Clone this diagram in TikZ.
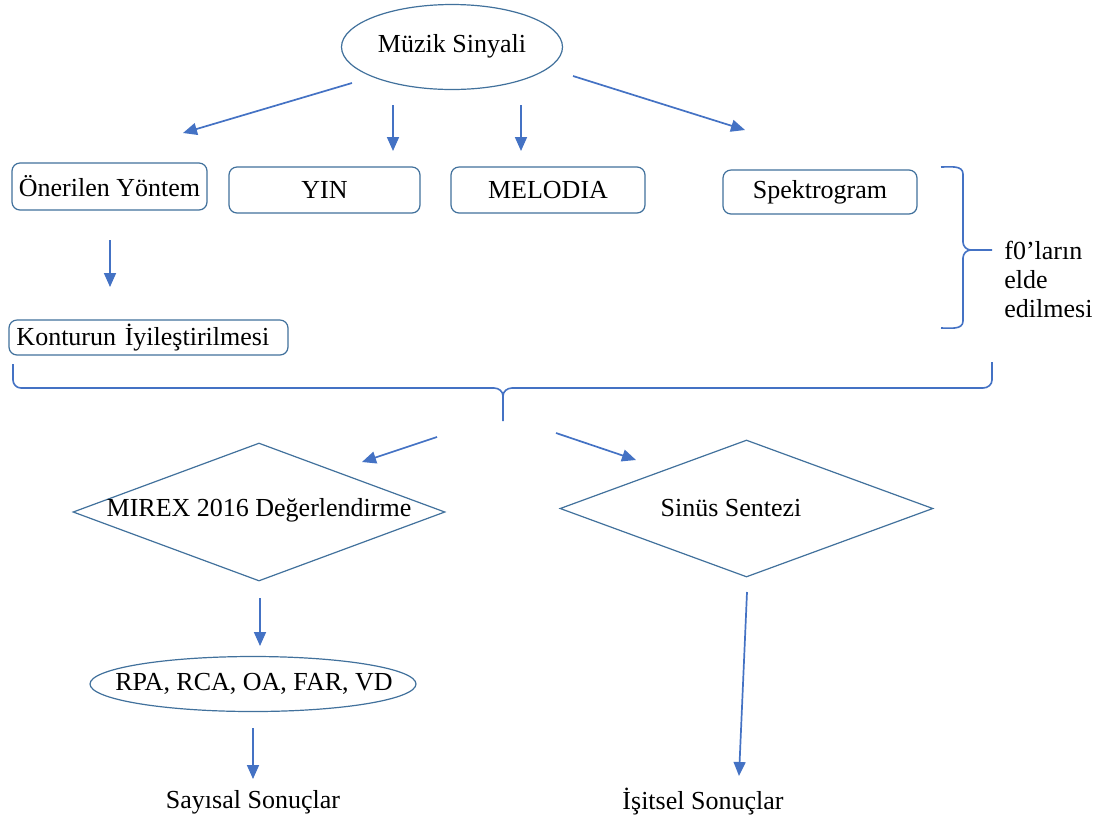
\documentclass[tikz,border=0pt]{standalone}
\usepackage{fontspec}
\setmainfont{Liberation Serif}
\usetikzlibrary{shapes.geometric,arrows.meta}
\definecolor{shapeblue}{HTML}{41719C}
\definecolor{arrowblue}{HTML}{4472C4}
\begin{document}
\begin{tikzpicture}[x=0.5pt,y=-0.5pt,
  every node/.style={font=\fontsize{13}{15}\selectfont},
  box/.style={draw=shapeblue, line width=0.6pt, rounded corners=4pt, inner sep=0pt},
  oval/.style={draw=shapeblue, line width=0.6pt, ellipse, inner sep=0pt},
  dia/.style={draw=shapeblue, line width=0.6pt, diamond, inner sep=0pt},
  arr/.style={draw=arrowblue, line width=0.85pt, -{Triangle[length=7pt,width=6pt]}},
  bracestyle/.style={draw=arrowblue, line width=0.8pt},
  plain/.style={inner sep=0pt}]
\useasboundingbox (0,0) rectangle (1103,821);
\fill[white] (0,0) rectangle (1103,821);

% nodes
\node[oval, minimum width=110.5pt, minimum height=42.5pt] (muzik) at (452,47) {};
\node[plain] (muzikt) at (452,46) {Müzik Sinyali};
\node[box, minimum width=97.5pt, minimum height=23.5pt] (oner) at (109.5,186.5) {Önerilen Yöntem};
\node[box, minimum width=95.5pt, minimum height=23pt] (yin) at (324.5,190) {YIN};
\node[box, minimum width=97pt, minimum height=23pt] (melodia) at (548,190) {MELODIA};
\node[box, minimum width=97pt, minimum height=22pt] (spek) at (820,192) {Spektrogram};
\node[box, minimum width=139.5pt, minimum height=17.5pt, text width=132pt, align=left] (kont) at (148.5,337.5) {Konturun İyileştirilmesi};
\node[plain, align=left, anchor=west, font=\fontsize{13}{14.5}\selectfont] (f0) at (1004,279) {f0’ların\\elde\\edilmesi};

\node[dia, minimum width=186pt, minimum height=69pt] (mirex) at (259,512) {};
\node[plain] (mirext) at (259,510) {MIREX 2016 Değerlendirme};
\node[dia, minimum width=186.5pt, minimum height=68.5pt] (sinus) at (746.5,508.5) {};
\node[plain] (sinust) at (731,508) {Sinüs Sentezi};

\node[oval, minimum width=163pt, minimum height=27.5pt] (rpa) at (253,684) {};
\node[plain] (rpat) at (254,684) {RPA, RCA, OA, FAR, VD};
\node[plain] (sayisal) at (253,802) {Sayısal Sonuçlar};
\node[plain] (isitsel) at (703,802) {İşitsel Sonuçlar};

% arrow end points
\coordinate (a1s) at (352,83);  \coordinate (a1e) at (183,133);
\coordinate (a2s) at (393,105); \coordinate (a2e) at (393,151);
\coordinate (a3s) at (521,105); \coordinate (a3e) at (521,151);
\coordinate (a4s) at (573,76);  \coordinate (a4e) at (745,130);
\coordinate (a5s) at (110,240); \coordinate (a5e) at (110,287);
\coordinate (a6s) at (437,437); \coordinate (a6e) at (362,462);
\coordinate (a7s) at (556,433); \coordinate (a7e) at (636,460);
\coordinate (a8s) at (260,598); \coordinate (a8e) at (260,646);
\coordinate (a9s) at (253,728); \coordinate (a9e) at (253,779);
\coordinate (a10s) at (747,592); \coordinate (a10e) at (739,776);

\draw[arr] (a1s) -- (a1e);
\draw[arr] (a2s) -- (a2e);
\draw[arr] (a3s) -- (a3e);
\draw[arr] (a4s) -- (a4e);
\draw[arr] (a5s) -- (a5e);
\draw[arr] (a6s) -- (a6e);
\draw[arr] (a7s) -- (a7e);
\draw[arr] (a8s) -- (a8e);
\draw[arr] (a9s) -- (a9e);
\draw[arr] (a10s) -- (a10e);

% right bracket
\coordinate (rbt) at (941,167);
\coordinate (rbm) at (992,250);
\coordinate (rbb) at (941,328);
\draw[bracestyle] (rbt) to[out=0,in=90] (963,174) -- (963,242) to[out=-90,in=180] (971,250) -- (rbm);
\draw[bracestyle] (971,250) to[out=180,in=90] (963,258) -- (963,321) to[out=-90,in=0] (rbb);

% bottom brace
\coordinate (bbl) at (13,364);
\coordinate (bbm) at (503,421);
\coordinate (bbr) at (992,362);
\draw[bracestyle] (bbl) -- (13,380) to[out=-90,in=180] (21,388) -- (494,388) to[out=0,in=90] (503,396) -- (bbm);
\draw[bracestyle] (503,396) to[out=90,in=180] (512,388) -- (983,388) to[out=0,in=-90] (992,380) -- (bbr);
\end{tikzpicture}
\end{document}
